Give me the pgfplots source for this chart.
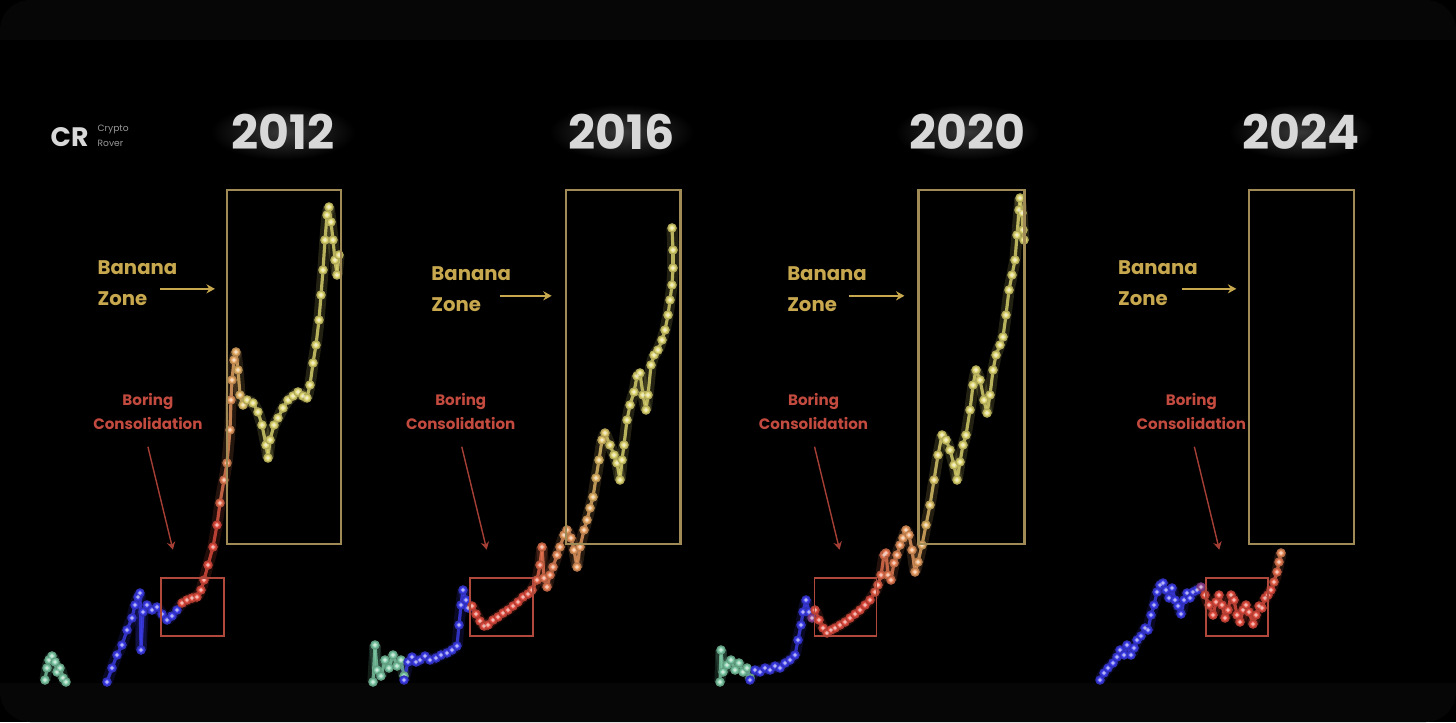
\documentclass[border=0pt]{standalone}
\usepackage{fontspec}
\setmainfont{Poppins}
\usepackage{pgfplots}
\usepackage{pgfplotstable}
\pgfplotsset{compat=1.18}
\usetikzlibrary{arrows.meta,fadings}
\definecolor{tealc}{HTML}{7CC8A4}
\definecolor{bluec}{HTML}{3C3CEA}
\definecolor{redc}{HTML}{E04C3E}
\definecolor{orangec}{HTML}{E89A60}
\definecolor{yellowc}{HTML}{DED670}
\definecolor{boxc}{HTML}{A08A55}
\definecolor{banc}{HTML}{C8A84E}
\definecolor{borc}{HTML}{C24A3E}
\definecolor{rboxc}{HTML}{B0483C}
\definecolor{titc}{HTML}{D8D8D8}
\definecolor{edgec}{HTML}{060606}
\tikzfading[name=glowfade, inner color=transparent!0, outer color=transparent!100]

% ---------------- data (pixel coordinates, y downwards) ----------------
\pgfplotstableread{
x y m
45 680 0
47 668 0
49 660 0
52 656 0
55 662 0
57 672 0
60 668 0
63 678 0
66 682 0
}\tA
\pgfplotstableread{
x y m
107 682 1
112 668 1
117 655 1
122 645 1
127 630 1
132 618 1
135 605 1
138 597 1
140 593 1
141 650 1
143 612 1
147 605 1
152 610 1
157 607 1
162 614 1
167 620 1
172 616 1
177 610 1
182 603 2
187 600 2
192 598 2
197 597 2
201 590 2
204 580 2
208 565 2
213 547 2
217 525 2
220 503 2.4
224 480 2.6
227 463 2.8
230 430 3
231 400 3
232 380 3.2
234 360 3.2
236 352 3.3
238 370 3.4
240 395 3.5
243 405 3.7
247 400 3.9
253 403 4
258 412 4
262 425 4
266 445 4
268 458 4
270 440 4
274 425 4
278 418 4
283 408 4
288 400 4
293 396 4
298 392 4
303 396 4
307 398 4
310 385 4
313 363 4
316 345 4
319 320 4
321 295 4
323 270 4
325 240 4
327 215 4
329 207 4
331 222 4
333 240 4
335 260 4
337 275 4
339 255 4
}\mA
\pgfplotstableread{
x y m
373 682 0
375 645 0
377 670 0
381 676 0
385 660 0
389 668 0
393 655 0
397 666 0
401 660 0
404 676 0
}\tB
\pgfplotstableread{
x y m
404 680 1
408 662 1
412 657 1
416 662 1
420 660 1
425 656 1
430 660 1
436 658 1
441 655 1
447 653 1
452 650 1
457 646 1
459 625 1
461 605 1
463 590 1
466 600 1
468 608 1
472 606 2
476 614 2
480 621 2
484 626 2
488 625 2
493 620 2
498 617 2
503 613 2
508 610 2
513 606 2
518 602 2
523 597 2
528 594 2
532 590 2.2
537 580 2.3
540 565 2.4
542 547 2.5
544 578 2.5
547 587 2.6
550 575 2.6
553 567 2.7
557 555 2.8
560 547 2.9
564 535 3
567 530 3
571 538 3
574 550 3
577 567 3
580 547 3
584 530 3.1
587 520 3.2
590 508 3.3
593 497 3.4
596 478 3.5
599 460 3.6
602 440 3.7
605 433 3.8
610 445 3.9
614 455 4
617 463 4
620 480 4
622 460 4
624 445 4
627 420 4
630 405 4
634 392 4
637 376 4
640 373 4
643 395 4
646 410 4
648 395 4
651 365 4
654 355 4
658 350 4
662 340 4
665 330 4
668 315 4
670 300 4
672 285 4
673 268 4
673 250 4
672 228 4
}\mB
\pgfplotstableread{
x y m
720 682 0
721 650 0
723 672 0
727 665 0
731 660 0
735 670 0
739 663 0
743 672 0
747 668 0
750 678 0
}\tC
\pgfplotstableread{
x y m
750 680 1
755 670 1
760 672 1
765 668 1
770 670 1
775 666 1
780 668 1
785 663 1
790 660 1
795 655 1
798 640 1
801 625 1
803 612 1
806 600 1
809 612 1
812 618 1.5
815 610 2
819 620 2
823 628 2
827 633 2
831 630 2
835 628 2
840 625 2
845 622 2
850 618 2
855 614 2
860 610 2
865 605 2
870 600 2
875 592 2.2
878 585 2.3
881 575 2.4
884 555 2.5
886 553 2.5
888 575 2.6
891 580 2.6
894 563 2.7
897 555 2.8
900 545 2.9
903 538 3
906 530 3
909 535 3
912 550 3
915 572 3
918 562 3.1
922 545 3.3
926 525 3.5
930 505 3.7
934 480 3.8
938 455 3.9
942 435 4
946 440 4
950 450 4
954 465 4
957 480 4
960 462 4
963 445 4
966 435 4
970 410 4
973 385 4
976 370 4
980 380 4
984 400 4
987 413 4
990 395 4
993 370 4
996 355 4
1000 345 4
1003 337 4
1006 315 4
1009 290 4
1012 275 4
1015 260 4
1017 235 4
1019 210 4
1020 198 4
1022 213 4
1023 230 4
1024 240 4
}\mC
\pgfplotstableread{
x y m
1100 680 1
1104 673 1
1108 668 1
1113 663 1
1117 657 1
1120 650 1
1124 655 1
1127 645 1
1131 655 1
1134 648 1
1137 640 1
1141 636 1
1145 628 1
1148 630 1
1151 615 1
1154 605 1
1157 592 1
1160 585 1
1163 583 1
1166 590 1
1169 598 1
1172 588 1
1175 600 1
1178 606 1
1181 614 1
1184 600 1
1187 593 1
1190 598 1
1193 592 1
1197 590 1
1201 587 1.5
1205 595 2
1209 605 2
1213 615 2
1216 602 2
1219 595 2
1222 605 2
1225 618 2
1228 610 2
1231 595 2
1234 600 2
1237 615 2
1240 622 2
1243 610 2
1246 605 2
1249 612 2
1253 624 2
1256 615 2
1259 606 2
1262 608 2
1265 598 2
1268 595 2
1271 590 2
1274 582 2.2
1277 572 2.4
1279 562 2.6
1281 553 2.8
}\mD

\newcommand{\btc}[1]{%
  \addplot[mesh, point meta=explicit, line width=3.2pt, opacity=0.16] table[x=x,y=y,meta=m]{#1};
  \addplot[mesh, point meta=explicit, line width=0.9pt, opacity=0.8] table[x=x,y=y,meta=m]{#1};
  \addplot[scatter, only marks, scatter src=explicit, mark=*, mark size=1.15pt] table[x=x,y=y,meta=m]{#1};
  \addplot[only marks, mark=*, mark size=0.4pt, white, opacity=0.4] table[x=x,y=y]{#1};
}

\begin{document}
\begin{tikzpicture}
\fill[black] (0,0) rectangle (14.56cm,7.22cm);
\fill[edgec, rounded corners=0.3cm] (0,0) rectangle (14.56cm,7.22cm);
\fill[black] (0,0.39cm) rectangle (14.56cm,6.82cm);
\begin{axis}[
  at={(0,0)}, anchor=south west,
  scale only axis, width=14.56cm, height=7.22cm,
  xmin=0, xmax=1456, ymin=0, ymax=722, y dir=reverse,
  hide axis,
  colormap={btc}{color(0)=(tealc) color(1)=(bluec) color(2)=(redc) color(3)=(orangec) color(4)=(yellowc)},
  point meta min=0, point meta max=4,
]
\btc{\tA}\btc{\mA}
\btc{\tB}\btc{\mB}
\btc{\tC}\btc{\mC}
\btc{\mD}
\end{axis}

\begin{scope}[x=0.01cm, y=-0.01cm, shift={(0,7.22cm)}]
% logo
\node[anchor=west, text=titc, inner sep=0, font=\fontsize{7.6}{8}\bfseries\selectfont] at (50,137) {CR};
\node[anchor=west, text=black!40!white, inner sep=0, align=left, font=\fontsize{2.6}{4.4}\selectfont] at (97,136) {Crypto\\Rover};
% titles with glow
\foreach \px/\yr in {283/2012, 622/2016, 968/2020, 1302/2024}{
  \fill[white, opacity=0.22, path fading=glowfade] (\px-72,104) rectangle (\px+72,160);
  \node[text=titc, inner sep=0, font=\fontsize{13.5}{15}\bfseries\selectfont] at (\px,132) {\yr};
}
% banana boxes
\foreach \xa/\xb in {227/341, 566/681, 919/1025, 1250/1355}{
  \draw[boxc, line width=0.65pt] (\xa,190) rectangle (\xb,544);
}
% banana labels
\foreach \tx/\ty/\ax/\bx/\ay in {97/268/160/215/289, 431/274/500/552/296, 787/274/849/905/296, 1118/268/1183/1237/289}{
  \node[anchor=west, text=banc, inner sep=0, font=\fontsize{5.6}{6}\bfseries\selectfont] at (\tx,\ty) {Banana};
  \node[anchor=west, text=banc, inner sep=0, font=\fontsize{5.6}{6}\bfseries\selectfont] at (\tx,\ty+31) {Zone};
  \draw[banc, line width=0.45pt, -{Stealth[length=2.4pt,width=2.6pt]}] (\ax,\ay) -- (\bx,\ay);
}
% boring consolidation
\foreach \cx/\ax/\bx/\rxa/\rxb in {148/148/173/161/224, 461/462/487/470/533, 814/815/840/815/877, 1192/1195/1220/1207/1269}{
  \node[text=borc, inner sep=0, font=\fontsize{4.3}{5}\bfseries\selectfont] at (\cx,402) {Boring};
  \node[text=borc, inner sep=0, font=\fontsize{4.3}{5}\bfseries\selectfont] at (\cx,424) {Consolidation};
  \draw[borc!85!black, line width=0.4pt, -{Stealth[length=2.2pt,width=2.4pt]}] (\ax,447) -- (\bx,550);
  \draw[rboxc, line width=0.5pt] (\rxa,578) rectangle (\rxb,636);
}
\end{scope}
\end{tikzpicture}
\end{document}
